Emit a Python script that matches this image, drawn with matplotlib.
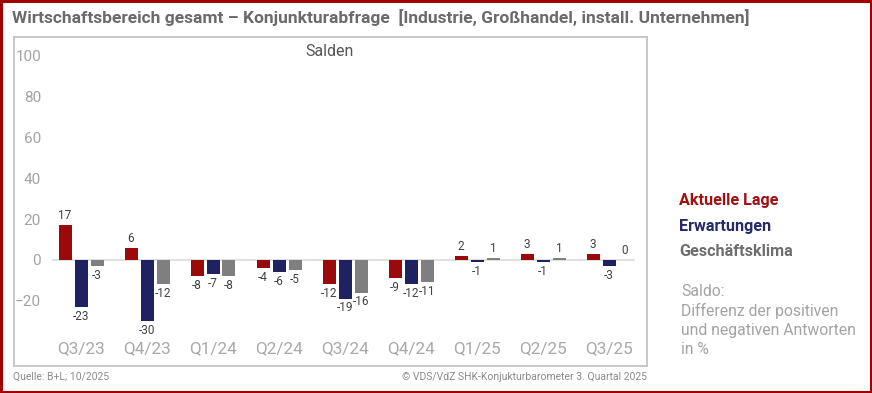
import matplotlib.pyplot as plt
import numpy as np
from matplotlib.patches import Rectangle

# data
quarters = ["Q3/23", "Q4/23", "Q1/24", "Q2/24", "Q3/24", "Q4/24", "Q1/25", "Q2/25", "Q3/25"]
aktuelle_lage = [17, 6, -8, -4, -12, -9, 2, 3, 3]
erwartungen = [-23, -30, -7, -6, -19, -12, -1, -1, -3]
geschaeftsklima = [-3, -12, -8, -5, -16, -11, 1, 1, 0]
series_names = ["Aktuelle Lage", "Erwartungen", "Geschäftsklima"]
yticks = [-20, 0, 20, 40, 60, 80, 100]

RED = "#9B0A0A"
NAVY = "#1F2160"
GRAY = "#7F7F7F"
colors = [RED, NAVY, GRAY]
legend_colors = ["#A01010", "#242A6A", "#6E6E6E"]

W, H = 872, 393
fig = plt.figure(figsize=(W / 100, H / 100), dpi=100)
plt.rcParams["font.family"] = ["Roboto", "DejaVu Sans"]

# outer red frame
fig.patches.append(Rectangle((0.0015, 0.003), 0.997, 0.994, transform=fig.transFigure,
                             fill=False, edgecolor="#A00000", linewidth=2.2))

# plot box in pixels
bx0, bx1, by0, by1 = 14, 647, 37, 366
ax = fig.add_axes([bx0 / W, (H - by1) / H, (bx1 - bx0) / W, (by1 - by0) / H])
for s in ax.spines.values():
    s.set_color("#C4C4C4")
    s.set_linewidth(1.3)

step = 66.0
x = np.arange(len(quarters))
x0 = (81 - bx0) / step
ax.set_xlim(-x0, (bx1 - bx0) / step - x0)
ax.set_ylim(-52, 109.3)

bw = 13 / step
off = 16 / step
ax.plot([-0.42, 8.38], [0, 0], color="#DADADA", lw=1.2, zorder=1)

all_series = [aktuelle_lage, erwartungen, geschaeftsklima]
for k, vals in enumerate(all_series):
    xs = x + (k - 1) * off
    ax.bar(xs, vals, width=bw, color=colors[k], zorder=2)
    for xi, v in zip(xs, vals):
        if v > 0 or (v == 0 and k == 2):
            ax.annotate(str(v), (xi, v), xytext=(0, 2), textcoords="offset points",
                        ha="center", va="bottom", fontsize=8.5, color="#404040")
        else:
            ax.annotate(str(v), (xi, v), xytext=(0, -2), textcoords="offset points",
                        ha="center", va="top", fontsize=8.5, color="#404040")

ax.set_yticks(yticks)
ax.set_xticks(x)
ax.set_xticklabels(quarters)
ax.tick_params(axis="y", length=0, pad=-19.5, labelsize=11, labelcolor="#A3A3A3")
ax.tick_params(axis="x", length=0, pad=-18, labelsize=12.3, labelcolor="#A8A8A8")

ax.text((330 - bx0) / (bx1 - bx0), 1 - (52 - by0) / (by1 - by0), "Salden",
        transform=ax.transAxes, ha="center", va="center", fontsize=11.5,
        color="#555555")

# title
fig.text(12 / W, 1 - 18 / H, "Wirtschaftsbereich gesamt \u2013 Konjunkturabfrage  [Industrie, Großhandel, install. Unternehmen]",
         ha="left", va="center", fontsize=12.5, fontweight="bold", color="#6A6A6A")

# legend on the right
for name, c, py in zip(series_names, legend_colors, [200, 226, 252]):
    fig.text(679 / W, 1 - py / H, name, ha="left", va="center", fontsize=11.6,
             fontweight="bold", color=c)
for line, py in zip(["Saldo:", "Differenz der positiven", "und negativen Antworten", "in %"],
                    [291, 311, 330, 349]):
    fig.text(681 / W, 1 - py / H, line, ha="left", va="center", fontsize=11.3,
             color="#A3A3A3")

# footer
fig.text(13 / W, 1 - 377 / H, "Quelle: B+L; 10/2025", ha="left", va="center",
         fontsize=7.5, color="#8A8A8A")
fig.text(647 / W, 1 - 377 / H, "© VDS/VdZ SHK-Konjukturbarometer 3. Quartal 2025",
         ha="right", va="center", fontsize=7.5, color="#8A8A8A")

fig.savefig("out.png", dpi=100)
